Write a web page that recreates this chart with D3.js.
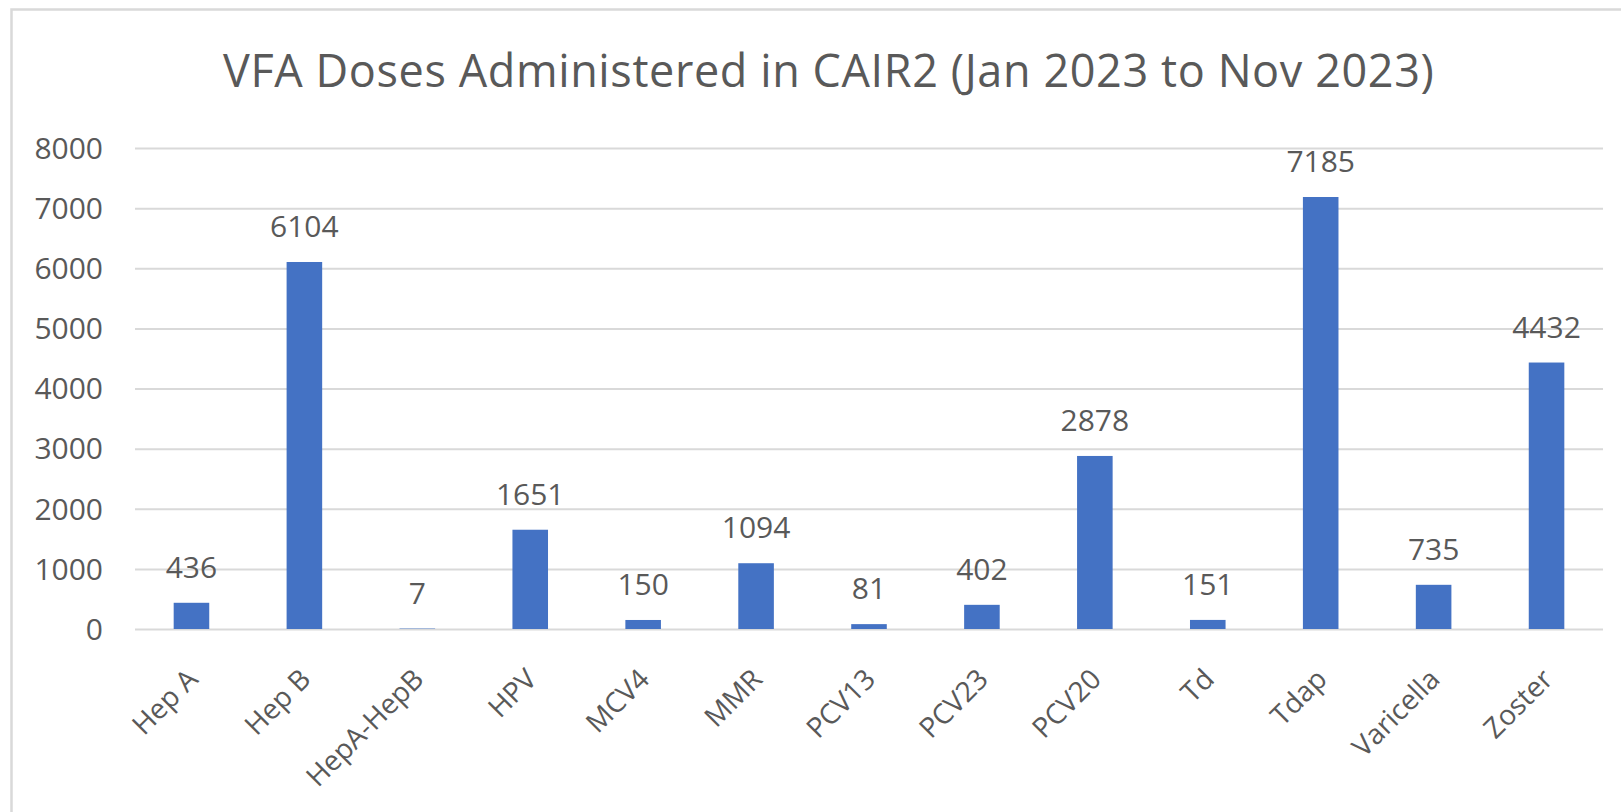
<!DOCTYPE html>
<meta charset="utf-8">
<head>
<style>
  body { margin: 0; background: #fff; }
  text { font-family: "Open Sans", "Noto Sans", sans-serif; fill: #595959; }
  .grid line { stroke: #d9d9d9; stroke-width: 2px; }
  .grid path { display: none; }
  .bar { fill: #4472c4; }
</style>
</head>
<body>
<script src="https://d3js.org/d3.v7.min.js"></script>
<script>

// data
var vaccines = ["Hep A", "Hep B", "HepA-HepB", "HPV", "MCV4", "MMR", "PCV13",
                "PCV23", "PCV20", "Td", "Tdap", "Varicella", "Zoster"];
var doses = [436, 6104, 7, 1651, 150, 1094, 81, 402, 2878, 151, 7185, 735, 4432];
var yTicks = [0, 1000, 2000, 3000, 4000, 5000, 6000, 7000, 8000];
var title = "VFA Doses Administered in CAIR2 (Jan 2023 to Nov 2023)";

var W = 1621, H = 812;
var margin = {top: 148, right: 18, bottom: 183, left: 135},
    width = W - margin.left - margin.right,
    height = H - margin.top - margin.bottom;

var svg = d3.select("body").append("svg")
    .attr("width", W)
    .attr("height", H);

// chart frame (cut off at right and bottom)
svg.append("path")
    .attr("d", "M11.5," + H + "V9.5H" + W)
    .attr("fill", "none")
    .attr("stroke", "#d9d9d9")
    .attr("stroke-width", 2.5);

svg.append("text")
    .attr("x", 223)
    .attr("y", 87)
    .attr("font-size", "45px")
    .attr("letter-spacing", "0.6px")
    .text(title);

var g = svg.append("g")
    .attr("transform", "translate(" + margin.left + "," + margin.top + ")");

var x = d3.scaleBand().domain(vaccines).range([0, width]).paddingInner(0.685).paddingOuter(0.3425);
var y = d3.scaleLinear().domain([0, 8000]).range([height, 0]);

// gridlines
g.append("g")
    .attr("class", "grid")
    .call(d3.axisLeft(y).tickValues(yTicks).tickSize(-width).tickFormat(""));

// y tick labels
g.selectAll(".ylab")
  .data(yTicks)
  .enter().append("text")
    .attr("class", "ylab")
    .attr("x", -32)
    .attr("y", function(d) { return y(d); })
    .attr("dy", "0.36em")
    .attr("text-anchor", "end")
    .attr("font-size", "30px")
    .text(function(d) { return d; });

var data = vaccines.map(function(v, i) { return {name: v, value: doses[i]}; });

g.selectAll(".bar")
  .data(data)
  .enter().append("rect")
    .attr("class", "bar")
    .attr("x", function(d) { return x(d.name); })
    .attr("width", x.bandwidth())
    .attr("y", function(d) { return y(d.value); })
    .attr("height", function(d) { return height - y(d.value); });

// value labels
g.selectAll(".val")
  .data(data)
  .enter().append("text")
    .attr("class", "val")
    .attr("x", function(d) { return x(d.name) + x.bandwidth() / 2; })
    .attr("y", function(d) { return y(d.value) - 25; })
    .attr("text-anchor", "middle")
    .attr("font-size", "30px")
    .text(function(d) { return d.value; });

// rotated category labels
g.selectAll(".xlab")
  .data(vaccines)
  .enter().append("text")
    .attr("class", "xlab")
    .attr("text-anchor", "end")
    .attr("font-size", "28px")
    .attr("transform", function(d) {
      return "translate(" + (x(d) + x.bandwidth() / 2 + 8) + "," + (height + 52) + ") rotate(-45)";
    })
    .text(function(d) { return d; });

</script>
</body>
